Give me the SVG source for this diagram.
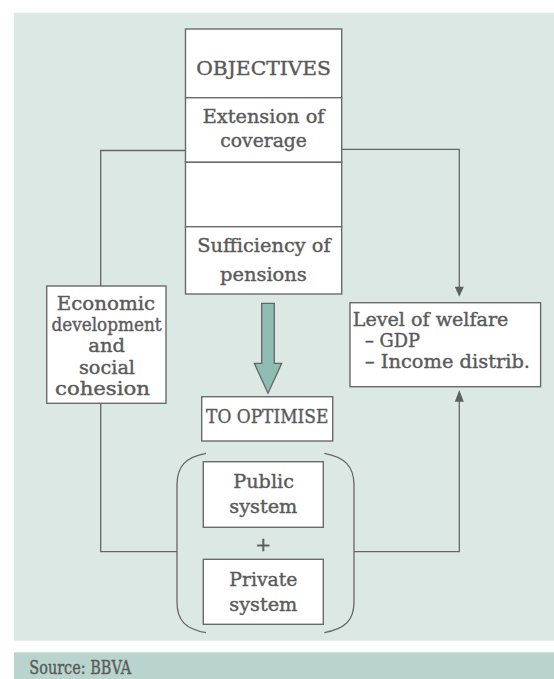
<svg xmlns="http://www.w3.org/2000/svg" width="554" height="679" viewBox="0 0 554 679">
<defs>
<style>
.box{fill:#fff;stroke:#6a6a6a;stroke-width:1.4}
.ln{fill:none;stroke:#666;stroke-width:1.3}
.t{font-family:"DejaVu Serif","Liberation Serif",serif;fill:#5a5a5a;stroke:#5a5a5a;stroke-width:0.4;font-size:19px}
.c{text-anchor:middle}
.ah{fill:#5f5f5f}
</style>
</defs>
<rect x="14" y="12.7" width="540" height="628" fill="#dce8e3"/>
<rect x="14" y="652.3" width="540" height="26.7" fill="#b9d4cc"/>
<text class="t" x="29.3" y="673.5" font-size="16" textLength="102" lengthAdjust="spacingAndGlyphs">Source: BBVA</text>

<g id="connectors">
<polyline class="ln" points="185.5,150.5 100.7,150.5 100.7,286"/>
<polyline class="ln" points="100.7,403.3 100.7,551.7 177,551.7"/>
<polyline class="ln" points="341.7,149.3 459.3,149.3 459.3,288"/>
<path class="ah" d="M454.8,286.7 L463.8,286.7 L459.3,296.7 Z"/>
<polyline class="ln" points="354,551.7 459.3,551.7 459.3,400"/>
<path class="ah" d="M454.8,401.7 L463.8,401.7 L459.3,390 Z"/>
<path d="M261.7,303.3 L274.3,303.3 L274.3,363.3 L281.7,363.3 L268,393.3 L254.3,363.3 L261.7,363.3 Z" fill="#8fbcb3" stroke="#666" stroke-width="1.3"/>
<path class="ln" d="M206,453.3 C186,457 177,466 177,485 L177,602 C177,621 186,629 206,632.7"/>
<path class="ln" d="M324.3,453.3 C344.3,457 354,466 354,485 L354,602 C354,621 344.3,629 324.3,632.7"/>
</g>

<g id="objectives">
<rect class="box" x="185.5" y="29" width="156.2" height="68.7"/>
<text class="t c" x="263.6" y="75" font-size="20.5" textLength="134.7" lengthAdjust="spacingAndGlyphs">OBJECTIVES</text>
</g>
<g id="extension">
<rect class="box" x="185.5" y="97.7" width="156.2" height="64.6"/>
<text class="t c" x="263.6" y="122.7" font-size="19" textLength="121.7" lengthAdjust="spacingAndGlyphs">Extension of</text>
<text class="t c" x="263.6" y="146.7" font-size="19" textLength="86.7" lengthAdjust="spacingAndGlyphs">coverage</text>
</g>
<g id="empty">
<rect class="box" x="185.5" y="162.3" width="156.2" height="64.4"/>
</g>
<g id="sufficiency">
<rect class="box" x="185.5" y="226.7" width="156.2" height="67.3"/>
<text class="t c" x="264" y="251.7" font-size="20.5" textLength="133.3" lengthAdjust="spacingAndGlyphs">Sufficiency of</text>
<text class="t c" x="263.4" y="280.7" font-size="20.5" textLength="86.7" lengthAdjust="spacingAndGlyphs">pensions</text>
</g>

<g id="economic">
<rect class="box" x="46.7" y="286" width="119.3" height="117.3"/>
<text class="t c" x="106" y="310" font-size="19.5" textLength="98.3" lengthAdjust="spacingAndGlyphs">Economic</text>
<text class="t c" x="106.5" y="330.5" font-size="19.5" textLength="110" lengthAdjust="spacingAndGlyphs">development</text>
<text class="t c" x="106.7" y="352.2" font-size="19.5" textLength="36.7" lengthAdjust="spacingAndGlyphs">and</text>
<text class="t c" x="107" y="373.6" font-size="19.5" textLength="56" lengthAdjust="spacingAndGlyphs">social</text>
<text class="t c" x="102.5" y="394.5" font-size="19.5" textLength="95" lengthAdjust="spacingAndGlyphs">cohesion</text>
</g>

<g id="welfare">
<rect class="box" x="350" y="302.7" width="190.6" height="84"/>
<text class="t" x="352.7" y="326" font-size="19" textLength="155.7" lengthAdjust="spacingAndGlyphs">Level of welfare</text>
<text class="t" x="365" y="346.7" font-size="19" textLength="55" lengthAdjust="spacingAndGlyphs">– GDP</text>
<text class="t" x="365" y="368.3" font-size="19" textLength="165" lengthAdjust="spacingAndGlyphs">– Income distrib.</text>
</g>

<g id="optimise">
<rect class="box" x="201.7" y="396.7" width="131" height="44.3"/>
<text class="t c" x="267.2" y="423" font-size="20" textLength="122.3" lengthAdjust="spacingAndGlyphs">TO OPTIMISE</text>
</g>

<g id="public">
<rect class="box" x="203.3" y="461.7" width="120" height="65.6"/>
<text class="t c" x="263.6" y="488.3" font-size="20.5" textLength="60.7" lengthAdjust="spacingAndGlyphs">Public</text>
<text class="t c" x="263.3" y="513.3" font-size="20.5" textLength="68" lengthAdjust="spacingAndGlyphs">system</text>
</g>
<text class="t c" x="263.3" y="551" font-size="18" stroke-width="0.2">+</text>
<g id="private">
<rect class="box" x="203.3" y="559.3" width="120" height="65"/>
<text class="t c" x="263.3" y="586" font-size="20.5" textLength="68" lengthAdjust="spacingAndGlyphs">Private</text>
<text class="t c" x="263.3" y="610.7" font-size="20.5" textLength="68" lengthAdjust="spacingAndGlyphs">system</text>
</g>
</svg>
